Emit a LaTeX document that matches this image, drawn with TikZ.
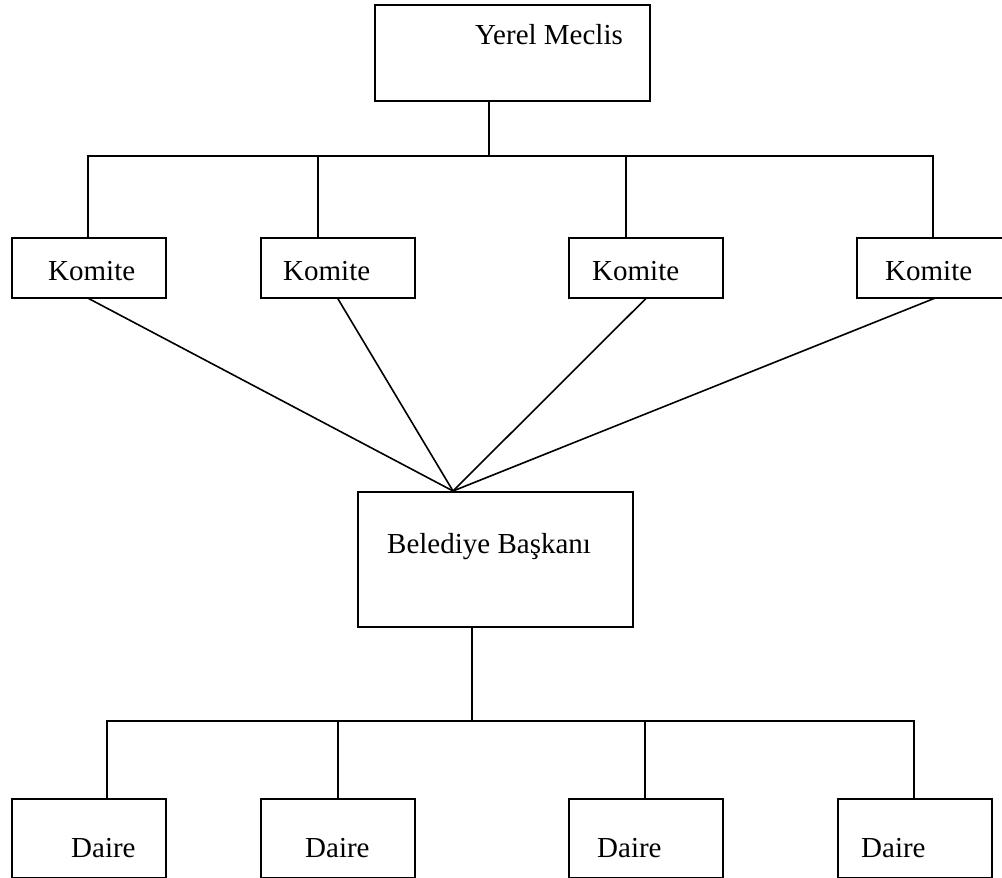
\documentclass[tikz,border=0pt]{standalone}
\usepackage{fontspec}
\setmainfont{Liberation Serif}
\begin{document}
\begin{tikzpicture}[x=1pt,y=-1pt,
  box/.style={draw,line width=1.6pt,rectangle,inner sep=0pt,anchor=north west},
  komitebox/.style={box,minimum width=154pt,minimum height=60pt},
  dairebox/.style={box,minimum width=154pt,minimum height=79pt},
  bigbox/.style={box,minimum width=275pt},
  lbl/.style={anchor=base west,inner sep=0pt,font=\fontsize{29}{34}\selectfont},
  link/.style={line width=1.6pt,line cap=rect}]
\useasboundingbox (0,0) rectangle (1002,878);
\clip (0,0) rectangle (1002,878);

% top level
\node[bigbox,minimum height=96pt] (meclis) at (374,4) {};
\node[lbl] (meclisT) at (475,45) {Yerel Meclis};

% committees
\node[komitebox] (k1) at (11,237) {};
\node[komitebox] (k2) at (260,237) {};
\node[komitebox] (k3) at (568,237) {};
\node[komitebox] (k4) at (856,237) {};
\node[lbl] (k1T) at (48,280) {Komite};
\node[lbl] (k2T) at (283,280) {Komite};
\node[lbl] (k3T) at (592,280) {Komite};
\node[lbl] (k4T) at (885,280) {Komite};

% mayor
\node[bigbox,minimum height=135pt] (baskan) at (357,491) {};
\node[lbl] (baskanT) at (387,553) {Belediye Başkanı};

% departments
\node[dairebox] (d1) at (11,798) {};
\node[dairebox] (d2) at (260,798) {};
\node[dairebox] (d3) at (568,798) {};
\node[dairebox] (d4) at (837,798) {};
\node[lbl] (d1T) at (71,857) {Daire};
\node[lbl] (d2T) at (305,857) {Daire};
\node[lbl] (d3T) at (597,857) {Daire};
\node[lbl] (d4T) at (861,857) {Daire};

% junction points
\coordinate (m) at (489,156);
\coordinate (j1) at (88,156);
\coordinate (j2) at (318,156);
\coordinate (j3) at (626,156);
\coordinate (j4) at (933,156);
\coordinate (apex) at (453,491);
\coordinate (b) at (472,721);
\coordinate (e1) at (107,721);
\coordinate (e2) at (338,721);
\coordinate (e3) at (645,721);
\coordinate (e4) at (914,721);

% council to committees
\draw[link] (meclis.south -| m) -- (m);
\draw[link] (j1) -- (j4);
\foreach \i in {1,2,3,4} \draw[link] (j\i) -- (j\i |- k\i.north);

% committees to mayor
\foreach \i in {1,2,3,4} \draw[link] (k\i.south) -- (apex);

% mayor to departments
\draw[link] (baskan.south -| b) -- (b);
\draw[link] (e1) -- (e4);
\foreach \i in {1,2,3,4} \draw[link] (e\i) -- (e\i |- d\i.north);
\end{tikzpicture}
\end{document}
